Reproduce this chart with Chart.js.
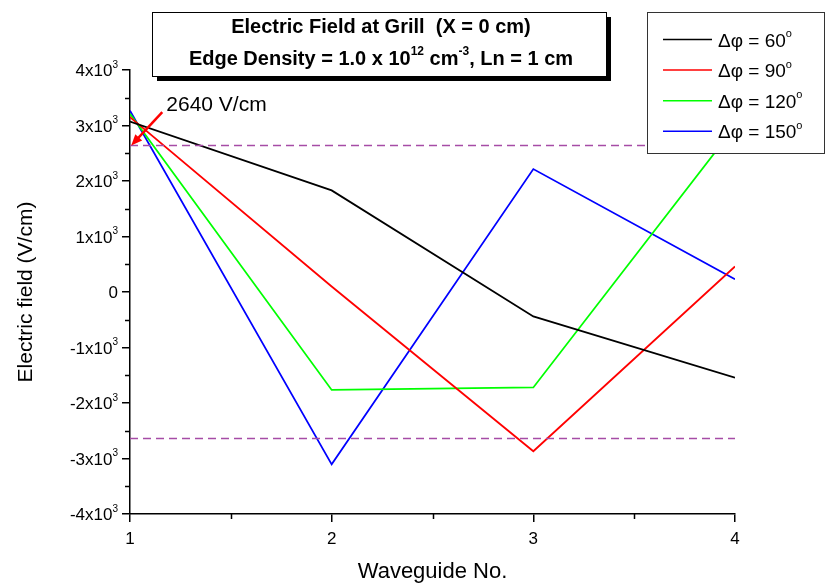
<!DOCTYPE html>
<html>
<head>
<meta charset="utf-8">
<script src="https://cdn.jsdelivr.net/npm/chart.js@4/dist/chart.umd.min.js"></script>
<style>
  html, body { margin: 0; padding: 0; background: #fff; }
  #wrap { width: 831px; height: 588px; }
</style>
</head>
<body>
<div id="wrap"><canvas id="grafico" width="831" height="588"></canvas></div>
<script>
// campo eletrico na grade, por guia de onda, para cada defasagem
const guias = [1, 2, 3, 4];
const fases = ['60', '90', '120', '150'];
const campo60 = [3070, 1830, -440, -1545];
const campo90 = [3150, 100, -2870, 460];
const campo120 = [3210, -1765, -1720, 2980];
const campo150 = [3265, -3105, 2215, 230];
const limite = 2640;
const cores = ['#000000', '#ff0000', '#00ff00', '#0000ff'];

const FONTE = 'Arial, "Liberation Sans", sans-serif';

const pontos = arr => arr.map((v, i) => ({ x: guias[i], y: v }));
const series = [campo60, campo90, campo120, campo150].map((arr, i) => ({
    label: 'Δφ = ' + fases[i],
    data: pontos(arr),
    borderColor: cores[i],
    borderWidth: 1.8,
    pointRadius: 0,
    tension: 0
}));
const tracejada = v => ({
    label: '',
    data: [{ x: guias[0], y: v }, { x: guias[guias.length - 1], y: v }],
    borderColor: '#a64ca6',
    borderWidth: 1.5,
    borderDash: [8, 5],
    pointRadius: 0
});

// texto com expoentes: partes [{t, sup}]
function textoRico(ctx, partes, x, y, tam, negrito, alinhar) {
    const peso = negrito ? 'bold ' : '';
    const fNormal = peso + tam + 'px ' + FONTE;
    const fSup = peso + Math.round(tam * 0.6) + 'px ' + FONTE;
    let largura = 0;
    partes.forEach(p => {
        ctx.font = p.sup ? fSup : fNormal;
        largura += ctx.measureText(p.t).width;
    });
    let cx = x;
    if (alinhar === 'center') cx = x - largura / 2;
    if (alinhar === 'right') cx = x - largura;
    ctx.textBaseline = 'alphabetic';
    ctx.textAlign = 'left';
    partes.forEach(p => {
        ctx.font = p.sup ? fSup : fNormal;
        ctx.fillText(p.t, cx, p.sup ? y - tam * 0.5 : y);
        cx += ctx.measureText(p.t).width;
    });
}

const extras = {
    id: 'extras',
    afterDraw(chart) {
        const ctx = chart.ctx;
        const sx = chart.scales.x, sy = chart.scales.y;
        ctx.save();

        // rotulos do eixo y com expoente
        ctx.fillStyle = '#000';
        sy.ticks.forEach(t => {
            const py = sy.getPixelForValue(t.value) + 6;
            const partes = t.value === 0 ? [{ t: '0' }] :
                [{ t: (t.value / 1000) + 'x10' }, { t: '3', sup: true }];
            textoRico(ctx, partes, sy.right - 12, py, 17, false, 'right');
        });

        // ticks menores
        ctx.strokeStyle = '#000';
        ctx.lineWidth = 1.5;
        ctx.beginPath();
        for (let v = -3500; v <= 3500; v += 1000) {
            const py = Math.round(sy.getPixelForValue(v)) + 0.5;
            ctx.moveTo(sx.left - 5, py);
            ctx.lineTo(sx.left, py);
        }
        for (let v = 1.5; v < 4; v += 1) {
            const px = Math.round(sx.getPixelForValue(v)) + 0.5;
            ctx.moveTo(px, sy.bottom);
            ctx.lineTo(px, sy.bottom + 5);
        }
        ctx.stroke();

        // seta vermelha do limite
        const x0 = sx.getPixelForValue(1.16), y0 = sy.getPixelForValue(3240);
        const x1 = sx.getPixelForValue(1.006), y1 = sy.getPixelForValue(limite);
        const ang = Math.atan2(y1 - y0, x1 - x0);
        ctx.strokeStyle = '#ff0000';
        ctx.fillStyle = '#ff0000';
        ctx.lineWidth = 2.5;
        ctx.beginPath();
        ctx.moveTo(x0, y0);
        ctx.lineTo(x1 - 8 * Math.cos(ang), y1 - 8 * Math.sin(ang));
        ctx.stroke();
        ctx.beginPath();
        ctx.moveTo(x1, y1);
        ctx.lineTo(x1 - 12 * Math.cos(ang - 0.4), y1 - 12 * Math.sin(ang - 0.4));
        ctx.lineTo(x1 - 12 * Math.cos(ang + 0.4), y1 - 12 * Math.sin(ang + 0.4));
        ctx.closePath();
        ctx.fill();
        ctx.fillStyle = '#000';
        ctx.font = '21px ' + FONTE;
        ctx.textAlign = 'left';
        ctx.textBaseline = 'middle';
        ctx.fillText(limite + ' V/cm', sx.getPixelForValue(1.18), sy.getPixelForValue(3357));

        // caixa do titulo com sombra
        const tx = 152, ty = 12, tw = 454, th = 64;
        ctx.fillStyle = '#000';
        ctx.fillRect(tx + 5, ty + 5, tw, th);
        ctx.fillStyle = '#fff';
        ctx.fillRect(tx, ty, tw, th);
        ctx.strokeStyle = '#000';
        ctx.lineWidth = 1;
        ctx.strokeRect(tx + 0.5, ty + 0.5, tw, th);
        ctx.fillStyle = '#000';
        const cx = tx + tw / 2 + 2;
        textoRico(ctx, [{ t: 'Electric Field at Grill  (X = 0 cm)' }], cx, 33, 20, true, 'center');
        textoRico(ctx, [
            { t: 'Edge Density = 1.0 x 10' }, { t: '12', sup: true },
            { t: ' cm' }, { t: '-3', sup: true }, { t: ', Ln = 1 cm' }
        ], cx, 65, 20, true, 'center');

        // legenda
        const lx = 647, ly = 12, lw = 177, lh = 141;
        ctx.fillStyle = '#fff';
        ctx.fillRect(lx, ly, lw, lh);
        ctx.strokeStyle = '#333';
        ctx.lineWidth = 1;
        ctx.strokeRect(lx + 0.5, ly + 0.5, lw, lh);
        series.forEach((s, i) => {
            const yy = 39.5 + i * 30.6;
            ctx.strokeStyle = s.borderColor;
            ctx.lineWidth = 1.5;
            ctx.beginPath();
            ctx.moveTo(663, yy);
            ctx.lineTo(712, yy);
            ctx.stroke();
            ctx.fillStyle = '#000';
            textoRico(ctx, [{ t: s.label }, { t: 'o', sup: true }], 718, yy + 7, 19, false, 'left');
        });

        ctx.restore();
    }
};

const ctx = document.getElementById('grafico').getContext('2d');
new Chart(ctx, {
    type: 'line',
    data: {
        datasets: [tracejada(limite), tracejada(-limite), ...series]
    },
    options: {
        responsive: false,
        animation: false,
        layout: { padding: { top: 70, right: 96, left: 0, bottom: 0 } },
        plugins: { legend: { display: false }, tooltip: { enabled: false } },
        scales: {
            x: {
                type: 'linear',
                min: 1, max: 4,
                afterFit: s => { s.height = 74; },
                border: { color: '#000', width: 1.5 },
                grid: { drawOnChartArea: false, drawTicks: true, tickLength: 8, color: '#000', lineWidth: 1.5 },
                ticks: { stepSize: 1, color: '#000', padding: 7, font: { family: FONTE, size: 17 } },
                title: { display: true, text: 'Waveguide No.', color: '#000', padding: { top: 6, bottom: 3 }, font: { family: FONTE, size: 22 } }
            },
            y: {
                min: -4000, max: 4000,
                afterFit: s => { s.width = 130; },
                border: { color: '#000', width: 1.5 },
                grid: { drawOnChartArea: false, drawTicks: true, tickLength: 8, color: '#000', lineWidth: 1.5 },
                ticks: { stepSize: 1000, display: false },
                title: { display: true, text: 'Electric field (V/cm)', color: '#000', padding: { top: 14, bottom: 0 }, font: { family: FONTE, size: 21 } }
            }
        }
    },
    plugins: [extras]
});
</script>
</body>
</html>
